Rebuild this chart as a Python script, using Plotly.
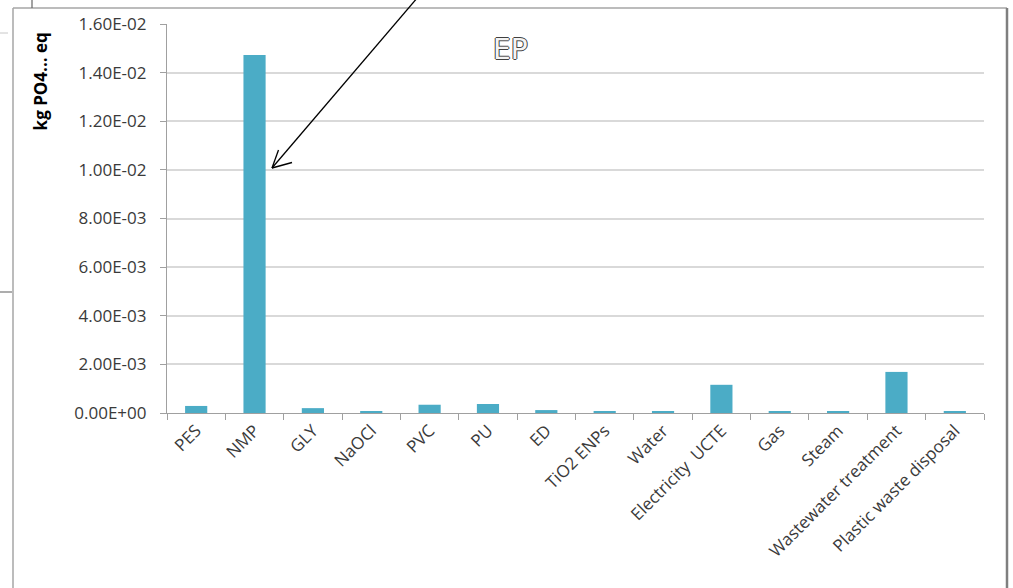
import plotly.graph_objects as go

categories = ["PES", "NMP", "GLY", "NaOCl", "PVC", "PU", "ED", "TiO2 ENPs", "Water",
              "Electricity  UCTE", "Gas", "Steam", "Wastewater treatment", "Plastic waste disposal"]
values = [2.9e-4, 1.472e-2, 2.0e-4, 6e-5, 3.4e-4, 3.7e-4, 1.2e-4, 6e-5, 7e-5,
          1.16e-3, 8e-5, 8e-5, 1.69e-3, 8e-5]
ytick_vals = [0, 0.002, 0.004, 0.006, 0.008, 0.010, 0.012, 0.014, 0.016]
ytick_text = ["0.00E+00", "2.00E-03", "4.00E-03", "6.00E-03", "8.00E-03",
              "1.00E-02", "1.20E-02", "1.40E-02", "1.60E-02"]
y_title = "kg PO4... eq"
chart_title = "EP"

W, H = 1013, 588
L, R, T, B = 167, 29, 20, 175
PW, PH = W - L - R, H - T - B

def px(x):
    return x - L

def py(y):
    return (H - B) - y

fig = go.Figure(go.Bar(
    x=categories, y=values,
    marker=dict(color="#4bacc6", line=dict(width=0)),
))

shapes = []

def seg(x0, y0, x1, y1, color, width):
    shapes.append(dict(
        type="path", xref="paper", yref="paper", xsizemode="pixel", ysizemode="pixel",
        xanchor=0, yanchor=0,
        path=f"M {px(x0)},{py(y0)} L {px(x1)},{py(y1)}",
        line=dict(color=color, width=width), layer="above"))

# outer frame
seg(13, 8, 1007, 8, "#a6a6a6", 1.5)
seg(13, 8, 13, 600, "#a6a6a6", 1.5)
seg(1007, 8, 1007, 600, "#7f7f7f", 2.5)
# remnants of an underlying frame
seg(32, -2, 32, 8, "#666666", 1.2)
seg(-2, 33, 8, 33, "#c8c8c8", 1)
seg(-2, 292, 12, 292, "#777777", 1.2)
# arrow
seg(418, -3, 272, 168, "#000000", 1.3)
seg(272, 168, 292, 162.5, "#000000", 1.3)
seg(272, 168, 278.5, 150, "#000000", 1.3)

fig.update_layout(
    width=W, height=H,
    margin=dict(l=L, r=R, t=T, b=B),
    paper_bgcolor="white", plot_bgcolor="white",
    font=dict(family="Open Sans", size=17, color="#3a3a3a"),
    bargap=0.62,
    showlegend=False,
    shapes=shapes,
    annotations=[
        dict(text=y_title, xref="paper", yref="paper",
             x=(40 - L) / PW, y=(H - B - 78) / PH, showarrow=False, textangle=-90,
             font=dict(family="Open Sans", size=17, color="#000000", weight="bold"),
             xanchor="center", yanchor="middle"),
        dict(text=chart_title, xref="paper", yref="paper",
             x=(510 - L) / PW, y=(H - B - 46) / PH, showarrow=False,
             font=dict(family="DejaVu Sans", size=28, color="#f4f4f4",
                       shadow="1px 0 0 #404040, -1px 0 0 #404040, 0 1px 0 #404040, 0 -1px 0 #404040"),
             xanchor="center", yanchor="middle"),
    ],
)
fig.update_xaxes(
    type="category", showline=True, linecolor="#a0a0a0", linewidth=1.2,
    ticks="outside", tickson="boundaries", ticklen=6, tickcolor="#a0a0a0",
    tickangle=-45, showgrid=False, tickfont=dict(size=17, color="#3a3a3a"),
)
fig.update_yaxes(
    range=[0, 0.016], tickvals=ytick_vals, ticktext=ytick_text,
    showline=True, linecolor="#a0a0a0", linewidth=1.2,
    ticks="outside", ticklen=6, tickcolor="#a0a0a0",
    showgrid=True, gridcolor="#d9d9d9", gridwidth=1.8, zeroline=False,
    ticklabelstandoff=10, tickfont=dict(size=17, color="#3a3a3a"),
)

fig.write_html("out.html")
